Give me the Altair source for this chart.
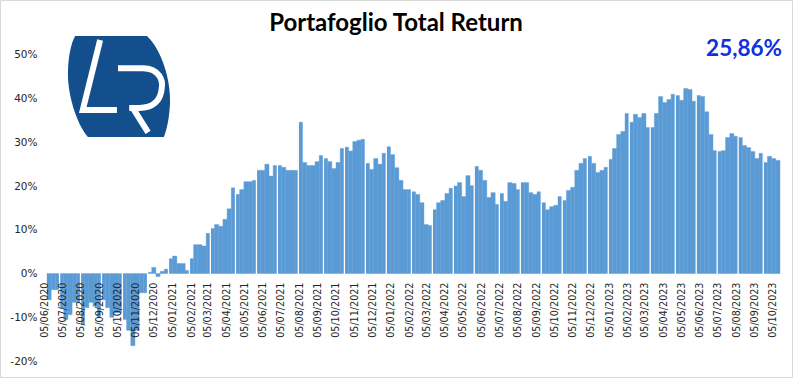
import altair as alt
import pandas as pd

# ---------------- data ----------------
first_friday = "2020-06-12"   # weekly observations (Fridays)
returns_pct = [
    -6.0, -3.7, -3.7, -8.0, -10.5, -9.4, -6.6, -6.6, -11.7, -7.8,
    -6.6, -7.5, -10.0, -6.0, -7.8, -10.0, -9.0, -9.0, -10.5, -13.0,
    -16.5, -13.0, -4.4, -4.4, 0.3, 1.4, -0.7, 0.5, 1.0, 3.4,
    4.0, 2.3, 2.3, 0.7, 3.4, 6.6, 6.6, 6.3, 9.2, 10.3,
    11.2, 10.8, 12.4, 14.8, 19.6, 18.1, 19.2, 21.0, 21.0, 21.3,
    23.6, 23.6, 25.0, 22.3, 24.7, 24.7, 24.3, 23.6, 23.6, 23.6,
    34.6, 25.4, 24.7, 24.7, 25.6, 27.0, 26.3, 25.6, 24.0, 25.4,
    28.6, 28.9, 28.0, 30.2, 30.5, 30.7, 25.2, 23.8, 26.3, 25.0,
    27.5, 29.0, 27.2, 24.2, 21.3, 19.2, 19.2, 18.7, 18.1, 16.2,
    11.2, 11.0, 14.6, 16.2, 16.7, 18.3, 19.5, 20.0, 20.8, 17.6,
    22.4, 20.1, 24.5, 23.6, 21.3, 17.4, 18.5, 15.8, 18.3, 16.5,
    20.8, 20.6, 19.2, 20.8, 20.8, 18.5, 18.1, 18.7, 16.2, 14.6,
    15.3, 15.6, 17.6, 16.7, 19.0, 19.7, 23.6, 25.2, 26.3, 26.8,
    25.2, 23.1, 23.6, 24.3, 26.1, 28.6, 31.8, 32.5, 36.6, 34.6,
    36.4, 35.7, 36.6, 33.4, 33.4, 36.6, 40.5, 39.1, 39.8, 41.0,
    40.7, 39.6, 42.3, 42.1, 39.4, 40.7, 40.5, 37.0, 31.8, 28.1,
    27.9, 28.1, 31.1, 32.0, 31.4, 31.1, 29.3, 28.8, 27.9, 26.3,
    27.5, 25.4, 26.8, 26.3, 25.86,
]
# bar indices preceded by a thin white gap in the original
gap_before = [3, 8, 13, 18, 24, 29, 34, 39, 45, 50, 55, 60, 66, 71, 76, 81,
              87, 92, 97, 102, 108, 113, 118, 123, 129, 134, 139, 144, 150,
              155, 160, 165, 171]
tick_years = [2020] * 7 + [2021] * 12 + [2022] * 12 + [2023] * 10
tick_months = list(range(6, 13)) + list(range(1, 13)) * 2 + list(range(1, 11))
tick_day = 5
y_ticks = [-0.2, -0.1, 0.0, 0.1, 0.2, 0.3, 0.4, 0.5]
title_text = "Portafoglio Total Return"
last_value_text = "25,86%"

# ---------------- frames ----------------
dates = pd.date_range(first_friday, periods=len(returns_pct), freq="7D")
half = pd.Timedelta(hours=84)
df = pd.DataFrame({
    "date": dates,
    "start": dates - half,
    "end": dates + half,
    "ret": [v / 100 for v in returns_pct],
})
sep = pd.DataFrame({"d": [dates[i] - half for i in gap_before]})
tick_ts = [pd.Timestamp(year=y, month=m, day=tick_day) for y, m in zip(tick_years, tick_months)]
ticks_df = pd.DataFrame({"t": tick_ts, "label": [t.strftime("%d/%m/%Y") for t in tick_ts]})


def dt(ts):
    return alt.DateTime(year=ts.year, month=ts.month, date=ts.day, hours=ts.hour)


x_scale = alt.Scale(domain=[dt(df["start"].iloc[0]), dt(df["end"].iloc[-1])], nice=False)
y_scale = alt.Scale(domain=[-0.2, 0.55], nice=False, zero=False)

W, H = 733, 328
FONT = "DejaVu Sans"
LABEL_COLOR = "#262626"

y_axis = alt.Axis(
    values=y_ticks, labelExpr="round(datum.value*100) + '%'",
    labelFont=FONT, labelFontSize=10.5, labelColor=LABEL_COLOR,
    domain=False, ticks=False, grid=False, labelPadding=10, title=None,
)

bars = alt.Chart(df).mark_bar(color="#5B9BD5", stroke="#5B9BD5", strokeWidth=0.4).encode(
    x=alt.X("start:T", scale=x_scale, axis=None),
    x2="end:T",
    y=alt.Y("ret:Q", scale=y_scale, axis=y_axis),
    y2=alt.datum(0),
)

gaps = alt.Chart(sep).mark_rule(color="white", strokeWidth=1.3).encode(
    x=alt.X("d:T", scale=x_scale),
)

# date labels hang just under the zero line, as in the original
y_zero_px = H * 0.55 / 0.75
x_labels = alt.Chart(ticks_df).mark_text(
    angle=270, align="right", baseline="middle", font=FONT, fontSize=9.6,
    color=LABEL_COLOR
).encode(
    x=alt.X("t:T", scale=x_scale),
    y=alt.value(y_zero_px + 9),
    text="label:N",
)

one = pd.DataFrame({"k": [0]})

ellipse_path = ("M -0.86 -0.99 L 0.55 -0.99 C 0.85 -0.7 1.02 -0.1 1.0 0.32 "
                "C 0.99 0.6 0.94 0.85 0.88 0.99 L -0.61 0.99 "
                "C -0.85 0.7 -1.02 0.1 -1.0 -0.32 C -0.99 -0.6 -0.94 -0.85 -0.86 -0.99 Z")
letters_path = ("M -0.37 -0.91 L -0.71 0.46 L -0.04 0.46 "
                "M -0.02 -0.36 L 0.47 -0.36 C 0.8 -0.36 0.86 -0.1 0.84 0.02 "
                "C 0.82 0.3 0.65 0.42 0.4 0.42 L 0.2 0.42 "
                "M 0.27 0.42 L 0.57 0.9")

logo_bg = alt.Chart(one).mark_point(
    shape=ellipse_path, size=10404, filled=True, fill="#134F8C", opacity=1, strokeWidth=0
).encode(x=alt.value(72), y=alt.value(53.5))
logo_fg = alt.Chart(one).mark_point(
    shape=letters_path, size=10404, filled=False, stroke="white", strokeWidth=6,
    opacity=1, strokeCap="butt", strokeJoin="miter"
).encode(x=alt.value(72), y=alt.value(53.5))

title = alt.Chart(one).mark_text(
    text=title_text, font="Lato", fontWeight="bold", fontSize=24, color="black",
    align="center", baseline="alphabetic"
).encode(x=alt.value(349), y=alt.value(-2))

last_val = alt.Chart(one).mark_text(
    text=last_value_text, font="Lato", fontWeight="bold", fontSize=22.5, color="#1030E0",
    align="right", baseline="alphabetic"
).encode(x=alt.value(735), y=alt.value(23))

border = alt.Chart(one).mark_rect(filled=False, stroke="#D9D9D9", strokeWidth=1).encode(
    x=alt.value(-46.5), x2=alt.value(745.5), y=alt.value(-32.5), y2=alt.value(344.5)
)

chart = alt.layer(border, bars, gaps, x_labels, logo_bg, logo_fg, title, last_val).properties(
    width=W, height=H,
    padding={"left": 47, "top": 33, "right": 13, "bottom": 17},
    autosize=alt.AutoSizeParams(type="none"),
    background="white",
).configure_view(strokeWidth=0)

chart.save("out.html", embed_options={"renderer": "svg", "actions": False})
